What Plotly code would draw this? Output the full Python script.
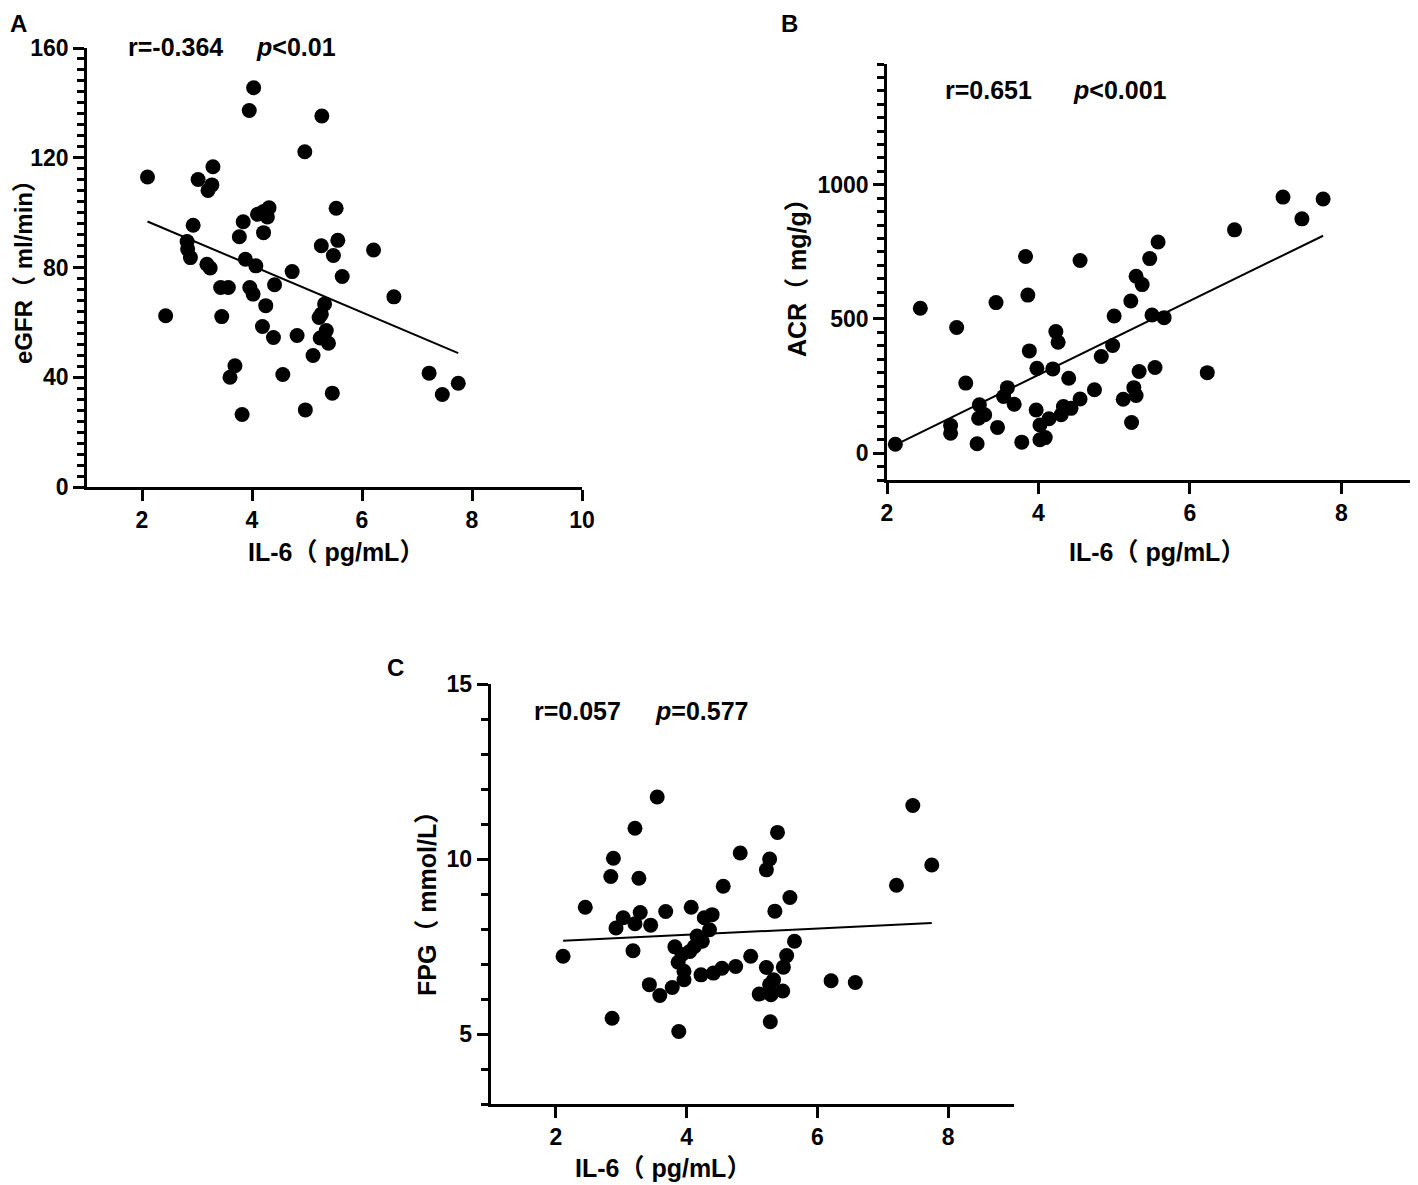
import numpy as np
import plotly.graph_objects as go

# page body adds an 8px margin, so the figure is drawn 8px smaller and shifted
OFF = 8
W, H = 1418 - OFF, 1185 - OFF

# ---- panel A: IL-6 vs eGFR ----
a_il6 = [2.10, 4.03, 3.95, 5.27, 4.96, 3.29, 3.02, 3.27, 3.20, 4.31, 5.53, 4.21, 4.10, 4.28,
         3.84, 2.93, 4.21, 3.77, 5.56, 2.82, 5.26, 2.83, 6.21, 5.48, 2.88, 3.88, 3.18, 3.24,
         4.07, 4.73, 5.64, 3.43, 3.57, 3.96, 4.41, 6.58, 4.02, 2.43, 4.25, 3.45, 5.32, 5.26,
         5.22, 4.19, 4.39, 4.82, 5.35, 5.24, 5.39, 5.11, 3.69, 3.60, 4.56, 7.22, 7.75, 7.46,
         5.46, 4.97, 3.82]
a_egfr = [113.0, 145.5, 137.2, 135.2, 122.2, 116.7, 112.1, 110.1, 108.1, 101.8, 101.6, 100.4,
          99.4, 98.4, 96.7, 95.4, 92.7, 91.2, 89.9, 89.5, 87.9, 86.7, 86.4, 84.4, 83.6, 83.0,
          81.2, 79.8, 80.6, 78.5, 76.7, 72.7, 72.7, 72.7, 73.7, 69.3, 70.3, 62.4, 66.1, 62.1,
          66.7, 63.0, 61.8, 58.5, 54.5, 55.2, 57.0, 54.3, 52.4, 47.9, 44.2, 40.0, 41.0, 41.5,
          37.8, 33.7, 34.2, 28.1, 26.4]
a_fit = (-8.49, 114.6)  # slope, intercept of the drawn regression line

# ---- panel B: IL-6 vs ACR ----
b_il6 = [2.11, 2.44, 2.92, 3.04, 2.84, 2.84, 3.19, 3.22, 3.21, 3.29, 3.46, 3.59, 3.54, 3.68,
         3.44, 3.86, 3.88, 3.78, 3.97, 3.98, 4.02, 4.02, 4.09, 4.14, 4.19, 4.23, 4.26, 4.30,
         4.33, 4.40, 4.43, 4.55, 4.74, 4.83, 4.98, 5.00, 5.12, 5.22, 5.23, 5.26, 5.29, 5.33,
         5.50, 5.54, 5.66, 6.23, 7.23, 7.76, 7.48, 6.59, 5.58, 5.47, 3.83, 4.55, 5.29, 5.37]
b_acr = [33, 540, 468, 261, 103, 74, 35, 180, 130, 143, 96, 244, 211, 182, 561, 589, 381, 41,
         161, 316, 105, 50, 58, 128, 314, 453, 413, 143, 174, 279, 167, 202, 236, 360, 401,
         511, 201, 567, 114, 244, 215, 304, 515, 319, 505, 300, 954, 947, 873, 832, 787, 725,
         733, 718, 659, 628]
b_fit = (137.9, -260.0)

# ---- panel C: IL-6 vs FPG ----
c_il6 = [3.55, 7.46, 3.21, 5.39, 4.82, 2.88, 5.27, 5.22, 7.75, 2.84, 3.27, 4.56, 7.21, 5.58,
         2.45, 4.07, 3.68, 5.35, 3.29, 4.39, 4.27, 3.03, 2.92, 3.21, 3.45, 4.35, 4.16, 4.24,
         4.12, 4.05, 3.82, 3.18, 2.11, 5.65, 5.53, 4.98, 3.93, 3.87, 4.75, 4.54, 4.41, 4.22,
         3.96, 3.96, 5.48, 5.22, 5.33, 3.43, 3.78, 3.59, 5.11, 5.29, 5.47, 6.21, 6.58, 2.86,
         5.28, 3.88, 5.27]
c_fpg = [11.77, 11.53, 10.88, 10.76, 10.17, 10.02, 10.00, 9.69, 9.83, 9.50, 9.45, 9.22, 9.25,
         8.90, 8.62, 8.62, 8.50, 8.51, 8.47, 8.41, 8.32, 8.32, 8.03, 8.15, 8.11, 7.98, 7.80,
         7.65, 7.50, 7.36, 7.49, 7.38, 7.22, 7.65, 7.24, 7.22, 7.27, 7.05, 6.93, 6.88, 6.74,
         6.69, 6.79, 6.55, 6.91, 6.90, 6.55, 6.41, 6.33, 6.10, 6.14, 6.12, 6.23, 6.52, 6.47,
         5.45, 5.35, 5.07, 6.41]
c_fit = (0.0888, 7.48)

NUM_FONT = "Liberation Sans Narrow, Arial Narrow, Liberation Sans, sans-serif"
TTL_FONT = "Liberation Sans, Arial, Noto Sans CJK SC, sans-serif"


def px(x):
    return (x - OFF) / W


def py(y):
    return 1 - (y - OFF) / H


fig = go.Figure()

panels = [
    # suffix, x, y, fit, domain x (px), domain y (px), x range, y range, x dtick, y dtick, y minor
    ("", a_il6, a_egfr, a_fit, (87, 582), (487, 48), [1, 10], [0, 160], 2, 40, 4),
    ("2", b_il6, b_acr, b_fit, (887, 1417), (480, 64), [2, 9], [-100, 1450], 2, 500, 50),
    ("3", c_il6, c_fpg, c_fit, (490.5, 1013.5), (1104, 684), [1, 9], [3, 15], 2, 5, 1),
]

for sfx, xs, ys, fit, dx, dy, xr, yr, xdt, ydt, ymin in panels:
    xa, ya = "x" + sfx, "y" + sfx
    fig.add_trace(go.Scatter(x=xs, y=ys, mode="markers", xaxis=xa, yaxis=ya,
                             marker=dict(size=15, color="black"), showlegend=False))
    lx = np.array([min(xs), max(xs)])
    fig.add_trace(go.Scatter(x=lx, y=fit[0] * lx + fit[1], mode="lines", xaxis=xa, yaxis=ya,
                             line=dict(color="black", width=2), showlegend=False))
    axcommon = dict(showgrid=False, zeroline=False, showline=True, linecolor="black", linewidth=2.5,
                    ticks="outside", ticklen=11, tickwidth=2.5, tickcolor="black", automargin=False,
                    tickfont=dict(family=NUM_FONT, size=23, color="black", weight="bold"))
    fig.layout["xaxis" + sfx] = dict(domain=[px(dx[0]), min(px(dx[1]), 1)], range=xr, dtick=xdt,
                                     tick0=0, anchor=ya, **axcommon)
    fig.layout["yaxis" + sfx] = dict(domain=[py(dy[0]), py(dy[1])], range=yr, dtick=ydt, tick0=0,
                                     anchor=xa,
                                     minor=dict(dtick=ymin, tick0=0, ticks="outside", ticklen=7,
                                                tickwidth=2.5, tickcolor="black"),
                                     **axcommon)

ann = []


def label(x, y, text, size=24, family=NUM_FONT, angle=0, xanchor="left"):
    ann.append(dict(x=px(x), y=py(y), xref="paper", yref="paper", text=text, showarrow=False,
                    xanchor=xanchor, yanchor="middle", textangle=angle,
                    font=dict(family=family, size=size, color="black", weight="bold")))


# panel letters
label(8, 23, "A", size=24, family=TTL_FONT)
label(779, 23, "B", size=24, family=TTL_FONT)
label(385, 667, "C", size=24, family=TTL_FONT)

# statistics
label(126, 47, "r=-0.364", size=25)
label(254, 47, "<i>p</i>&lt;0.01", size=25)
label(943, 90, "r=0.651", size=25)
label(1071, 90, "<i>p</i>&lt;0.001", size=25)
label(532, 711, "r=0.057", size=25)
label(653, 711, "<i>p</i>=0.577", size=25)

# axis titles
label(336, 552, "IL-6（ pg/mL）", size=25, family=TTL_FONT, xanchor="center")
label(1157, 552, "IL-6（ pg/mL）", size=25, family=TTL_FONT, xanchor="center")
label(663, 1168, "IL-6（ pg/mL）", size=25, family=TTL_FONT, xanchor="center")
label(23, 266, "eGFR（ ml/min）", size=24, family=TTL_FONT, angle=-90, xanchor="center")
label(797, 272, "ACR（ mg/g）", size=25, family=TTL_FONT, angle=-90, xanchor="center")
label(427, 898, "FPG（ mmol/L）", size=25, family=TTL_FONT, angle=-90, xanchor="center")

fig.update_layout(width=W, height=H, margin=dict(l=0, r=0, t=0, b=0),
                  paper_bgcolor="white", plot_bgcolor="white", annotations=ann)

fig.write_html("out.html")
